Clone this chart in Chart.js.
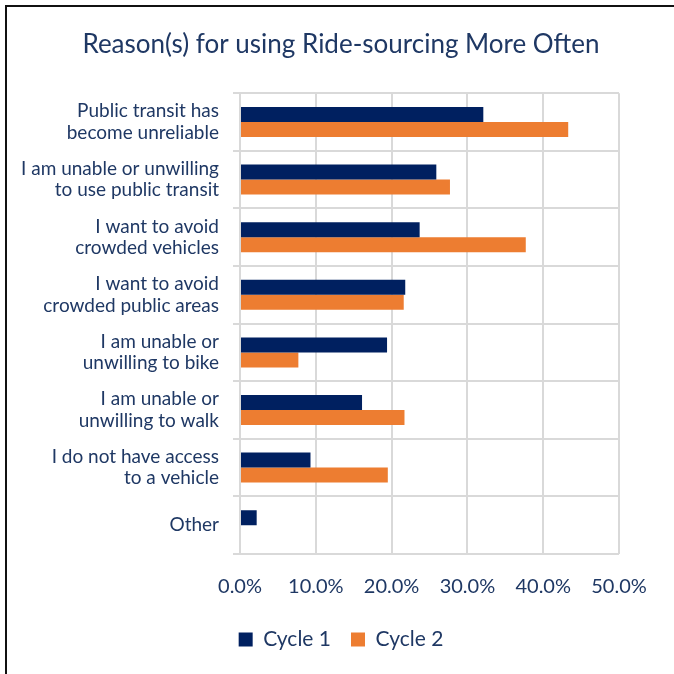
<!DOCTYPE html>
<html>
<head>
<meta charset="utf-8">
<script src="https://cdn.jsdelivr.net/npm/chart.js@4/dist/chart.umd.min.js"></script>
<style>
  html, body { margin: 0; padding: 0; background: #fff; }
  #marco {
    position: absolute; left: 0; top: 0; width: 674px; height: 674px;
  }
  #borde {
    position: absolute; left: 5px; top: 5px; width: 669px; height: 669px;
    border-left: 2px solid #111; border-top: 2px solid #111;
  }
  canvas { position: absolute; left: 0; top: 0; }
</style>
</head>
<body>
<div id="marco">
  <div id="borde"></div>
  <canvas id="barChart" width="674" height="674"></canvas>
</div>
<script>
/*==========================================================
  DATOS DEL GRAFICO
==========================================================*/
var categorias = [
  ["Public transit has", "become unreliable"],
  ["I am unable or unwilling", "to use public transit"],
  ["I want to avoid", "crowded vehicles"],
  ["I want to avoid", "crowded public areas"],
  ["I am unable or", "unwilling to bike"],
  ["I am unable or", "unwilling to walk"],
  ["I do not have access", "to a vehicle"],
  "Other",
];
var ciclo1 = [32.1, 25.9, 23.7, 21.8, 19.4, 16.1, 9.3, 2.2];
var ciclo2 = [43.3, 27.7, 37.7, 21.6, 7.7, 21.7, 19.5, 0];
var ticksX = [0, 10, 20, 30, 40, 50];

var azulTexto = "#1F3864";
var fuente = "Lato, 'Open Sans', sans-serif";

// las etiquetas largas del eje Y pasan por encima del padding izquierdo
var sinRecorte = {
  id: "sinRecorte",
  afterLayout: function (chart) {
    chart.scales.y.left = 0;
  },
};

/*==========================================================
  GRAFICO DE BARRAS
==========================================================*/
var ctx = document.getElementById("barChart").getContext("2d");
new Chart(ctx, {
  type: "bar",
  data: {
    labels: categorias,
    datasets: [
      { label: "Cycle 1", data: ciclo1, backgroundColor: "#002060" },
      { label: "Cycle 2", data: ciclo2, backgroundColor: "#ED7D31" },
    ],
  },
  plugins: [sinRecorte],
  options: {
    indexAxis: "y",
    responsive: false,
    animation: false,
    layout: { padding: { left: 36, right: 28, top: 0, bottom: 14 } },
    datasets: { bar: { categoryPercentage: 0.52, barPercentage: 1.0 } },
    plugins: {
      title: {
        display: true,
        text: "Reason(s) for using Ride-sourcing More Often",
        color: azulTexto,
        font: { family: fuente, size: 26, weight: "normal" },
        padding: { top: 29, bottom: 33 },
      },
      legend: {
        position: "bottom",
        labels: {
          color: azulTexto,
          font: { family: fuente, size: 21 },
          boxWidth: 14,
          boxHeight: 14,
          padding: 20,
        },
      },
      tooltip: { enabled: false },
    },
    scales: {
      x: {
        min: 0,
        max: 50,
        afterBuildTicks: function (scale) {
          scale.ticks = ticksX.map(function (v) { return { value: v }; });
        },
        afterFit: function (scale) {
          scale.height = 55;
          scale.paddingRight = 55;
        },
        ticks: {
          color: azulTexto,
          padding: 21,
          font: { family: fuente, size: 20 },
          callback: function (v) { return v.toFixed(1) + "%"; },
        },
        grid: { color: "#D9D9D9", lineWidth: 2, drawTicks: false },
        border: { display: false },
      },
      y: {
        afterFit: function (scale) { scale.width = 204; },
        ticks: {
          color: azulTexto,
          padding: 14,
          font: { family: fuente, size: 19, lineHeight: 1.12 },
        },
        grid: { color: "#D9D9D9", lineWidth: 2, offset: true, tickLength: 7 },
        border: { color: "#D9D9D9", width: 2 },
      },
    },
  },
});
</script>
</body>
</html>
